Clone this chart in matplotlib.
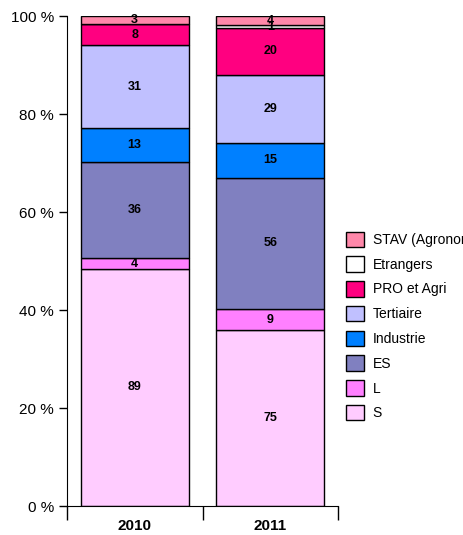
import matplotlib.pyplot as plt
from matplotlib.patches import Patch
import numpy as np

plt.rcParams['font.family'] = ['Liberation Sans', 'DejaVu Sans']

# data
years = ['2010', '2011']
series = ['S', 'L', 'ES', 'Industrie', 'Tertiaire', 'PRO et Agri', 'Etrangers', 'STAV (Agronomie)']
values = {
    'S': [89, 75],
    'L': [4, 9],
    'ES': [36, 56],
    'Industrie': [13, 15],
    'Tertiaire': [31, 29],
    'PRO et Agri': [8, 20],
    'Etrangers': [0, 1],
    'STAV (Agronomie)': [3, 4],
}
colors = ['#FFCCFF', '#FF80FF', '#8080C0', '#0080FF', '#C0C0FF', '#FF0080', '#FFFFFF', '#FF88AA']

fig = plt.figure(figsize=(4.63, 5.35), dpi=100)
ax = fig.add_axes([67/463, 29/535, (338-67)/463, (506-16)/535])

totals = np.sum([values[s] for s in series], axis=0)
x = np.array([0.5, 1.5])
bottom = np.zeros(2)
for s, c in zip(series, colors):
    v = np.array(values[s], dtype=float)
    pct = v / totals * 100
    ax.bar(x, pct, width=0.795, bottom=bottom, color=c, edgecolor='black', linewidth=1.0)
    for xi, b, p, val in zip(x, bottom, pct, v):
        if val > 0:
            ax.text(xi, b + p / 2, '%d' % val, ha='center', va='center',
                    fontsize=9, fontweight='bold')
    bottom += pct

ax.set_xlim(0, 2)
ax.set_ylim(0, 100)
ax.set_yticks([0, 20, 40, 60, 80, 100])
ax.set_yticklabels(['0 %', '20 %', '40 %', '60 %', '80 %', '100 %'], fontsize=11)
ax.tick_params(axis='y', direction='out', length=6, width=1)
ax.set_xticks(x)
ax.set_xticklabels(years, fontsize=11, fontweight='bold')
ax.set_xticks([0, 1, 2], minor=True)
ax.tick_params(axis='x', which='major', length=0, pad=9)
ax.tick_params(axis='x', which='minor', direction='out', length=10, width=1)
ax.spines['top'].set_visible(False)
ax.spines['right'].set_visible(False)

handles = [Patch(facecolor=c, edgecolor='black', label=s) for s, c in zip(series, colors)]
fig.legend(handles[::-1], series[::-1], loc='upper left', bbox_to_anchor=(340/463, 1 - 226/535),
           frameon=False, fontsize=10, handlelength=1.35, handleheight=1.35,
           labelspacing=0.66, handletextpad=0.6, borderaxespad=0)

fig.savefig('out.png', dpi=100)
